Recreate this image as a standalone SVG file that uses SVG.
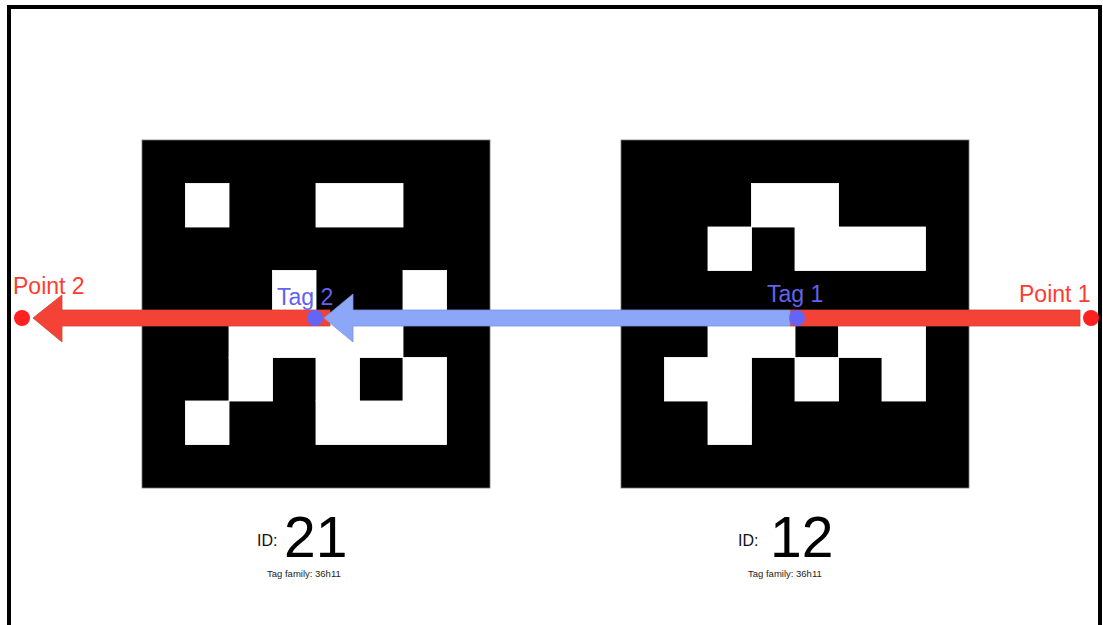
<svg xmlns="http://www.w3.org/2000/svg" width="1103" height="625" viewBox="0 0 1103 625">
<style>
.lbl{font-family:"Liberation Sans",Arial,sans-serif;font-size:23px}
.red{fill:#ff3b30}
.blue{fill:#6262ee}
.idsm{font-family:"Liberation Sans",Arial,sans-serif;font-size:16px;fill:#111}
.idbig{font-family:"Liberation Sans",Arial,sans-serif;font-size:57px;fill:#000}
.fam{font-family:"Liberation Sans",Arial,sans-serif;font-size:9.5px;fill:#222}
.w{fill:#fff;stroke:#fff;stroke-width:0.02}
</style>
<rect x="0" y="0" width="1103" height="625" fill="#fff"/>
<rect x="9" y="7" width="1091" height="700" fill="none" stroke="#000" stroke-width="4"/>
<g id="tag21">
<rect x="142" y="140" width="348" height="348" fill="#000" stroke="#777" stroke-width="0.8"/>
<g transform="translate(142,140) scale(43.5)">
<rect class="w" x="1" y="1" width="1" height="1"/>
<rect class="w" x="4" y="1" width="2" height="1"/>
<rect class="w" x="3" y="3" width="1" height="1"/>
<rect class="w" x="6" y="3" width="1" height="1"/>
<rect class="w" x="2" y="4" width="4" height="1"/>
<rect class="w" x="2" y="5" width="1" height="1"/>
<rect class="w" x="4" y="5" width="1" height="1"/>
<rect class="w" x="6" y="5" width="1" height="1"/>
<rect class="w" x="1" y="6" width="1" height="1"/>
<rect class="w" x="4" y="6" width="3" height="1"/>
</g>
<text class="idsm" x="257" y="546">ID:</text>
<text class="idbig" x="284" y="557">21</text>
<text class="fam" x="267" y="577">Tag family: 36h11</text>
</g>
<g id="tag12">
<rect x="621" y="140" width="348" height="348" fill="#000" stroke="#777" stroke-width="0.8"/>
<g transform="translate(621,140) scale(43.5)">
<rect class="w" x="3" y="1" width="2" height="1"/>
<rect class="w" x="2" y="2" width="1" height="1"/>
<rect class="w" x="4" y="2" width="3" height="1"/>
<rect class="w" x="2" y="4" width="2" height="1"/>
<rect class="w" x="5" y="4" width="2" height="1"/>
<rect class="w" x="1" y="5" width="2" height="1"/>
<rect class="w" x="4" y="5" width="1" height="1"/>
<rect class="w" x="6" y="5" width="1" height="1"/>
<rect class="w" x="2" y="6" width="1" height="1"/>
</g>
<text class="idsm" x="738" y="546">ID:</text>
<text class="idbig" x="770" y="557">12</text>
<text class="fam" x="748" y="577">Tag family: 36h11</text>
</g>
<g id="connectors">
<polygon points="330,310 62,310 62,295 33,318 62,342 62,326 330,326" fill="#f44336" stroke="#c9473a" stroke-width="0.8"/>
<rect x="790" y="310" width="290" height="16" fill="#f44336" stroke="#c9473a" stroke-width="0.8"/>
<polygon points="790,310 353,310 353,294 324,318 353,342 353,326 790,326" fill="#8ca6f8" stroke="#7d93dd" stroke-width="0.8"/>
</g>
<g id="point2">
<circle cx="22" cy="318" r="8" fill="#ff2020"/>
<text class="lbl red" x="13" y="294">Point 2</text>
</g>
<g id="tag2">
<circle cx="315" cy="318" r="8" fill="#6464f8"/>
<text class="lbl blue" x="277" y="305">Tag 2</text>
</g>
<g id="tag1">
<circle cx="797" cy="318" r="8" fill="#6464f8"/>
<text class="lbl blue" x="767" y="302">Tag 1</text>
</g>
<g id="point1">
<circle cx="1091" cy="318" r="8" fill="#ff2020"/>
<text class="lbl red" x="1019" y="302">Point 1</text>
</g>
</svg>
